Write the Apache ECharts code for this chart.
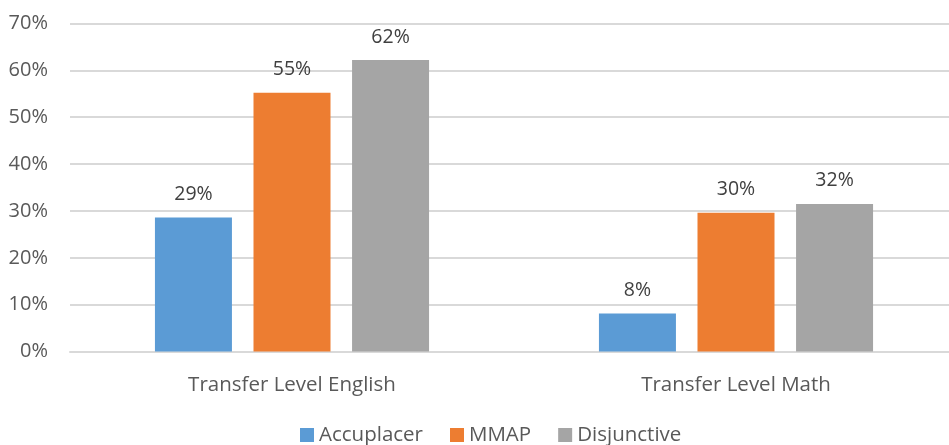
<!DOCTYPE html>
<html>
<head>
<meta charset="utf-8">
<script src="https://cdn.jsdelivr.net/npm/echarts@6/dist/echarts.min.js"></script>
<style>
  html, body { margin: 0; padding: 0; background: #fff; overflow: hidden; }
  #chart { width: 958px; height: 445px; }
</style>
</head>
<body>
<div id="chart"></div>
<script>
var categories = ['Transfer Level English', 'Transfer Level Math'];
var seriesNames = ['Accuplacer', 'MMAP', 'Disjunctive'];
var accuplacer = [28.6, 8.1];
var mmap = [55.2, 29.6];
var disjunctive = [62.2, 31.5];
var yTicks = [0, 10, 20, 30, 40, 50, 60, 70];

var colors = ['#5B9BD5', '#ED7D31', '#A5A5A5'];
var font = '"Open Sans", sans-serif';

function makeSeries(name, values, color) {
  return {
    name: name,
    type: 'bar',
    data: values,
    barWidth: 77,
    barGap: '28%',
    itemStyle: { color: color },
    label: {
      show: true,
      position: 'top',
      distance: 13,
      color: '#404040',
      fontFamily: font,
      fontSize: 19.5,
      formatter: function (p) {
        return Math.round(p.value) + '%';
      }
    }
  };
}

// plot area runs a bit past the right edge of the window, like the original
var chart = echarts.init(document.getElementById('chart'));
var option = {
  animation: false,
  color: colors,
  grid: { left: 70, right: 0, top: 23.4, bottom: 93.4, containLabel: false },
  legend: {
    data: seriesNames,
    top: 424,
    left: 300,
    padding: 0,
    icon: 'rect',
    itemWidth: 14,
    itemHeight: 14,
    itemGap: 27,
    textStyle: { color: '#595959', fontFamily: font, fontSize: 20.5, lineHeight: 22 }
  },
  xAxis: {
    type: 'category',
    data: categories,
    axisLine: { lineStyle: { color: '#d9d9d9', width: 2 } },
    axisTick: { show: false },
    axisLabel: { color: '#595959', fontFamily: font, fontSize: 20.5, margin: 23 }
  },
  yAxis: {
    type: 'value',
    min: yTicks[0],
    max: yTicks[yTicks.length - 1],
    interval: 10,
    axisLine: { show: false },
    axisTick: { show: false },
    splitLine: { lineStyle: { color: '#d9d9d9', width: 2 } },
    axisLabel: {
      color: '#595959',
      fontFamily: font,
      fontSize: 20,
      margin: 22,
      formatter: '{value}%'
    }
  },
  series: [
    makeSeries(seriesNames[0], accuplacer, colors[0]),
    makeSeries(seriesNames[1], mmap, colors[1]),
    makeSeries(seriesNames[2], disjunctive, colors[2])
  ]
};
chart.setOption(option);
</script>
</body>
</html>
